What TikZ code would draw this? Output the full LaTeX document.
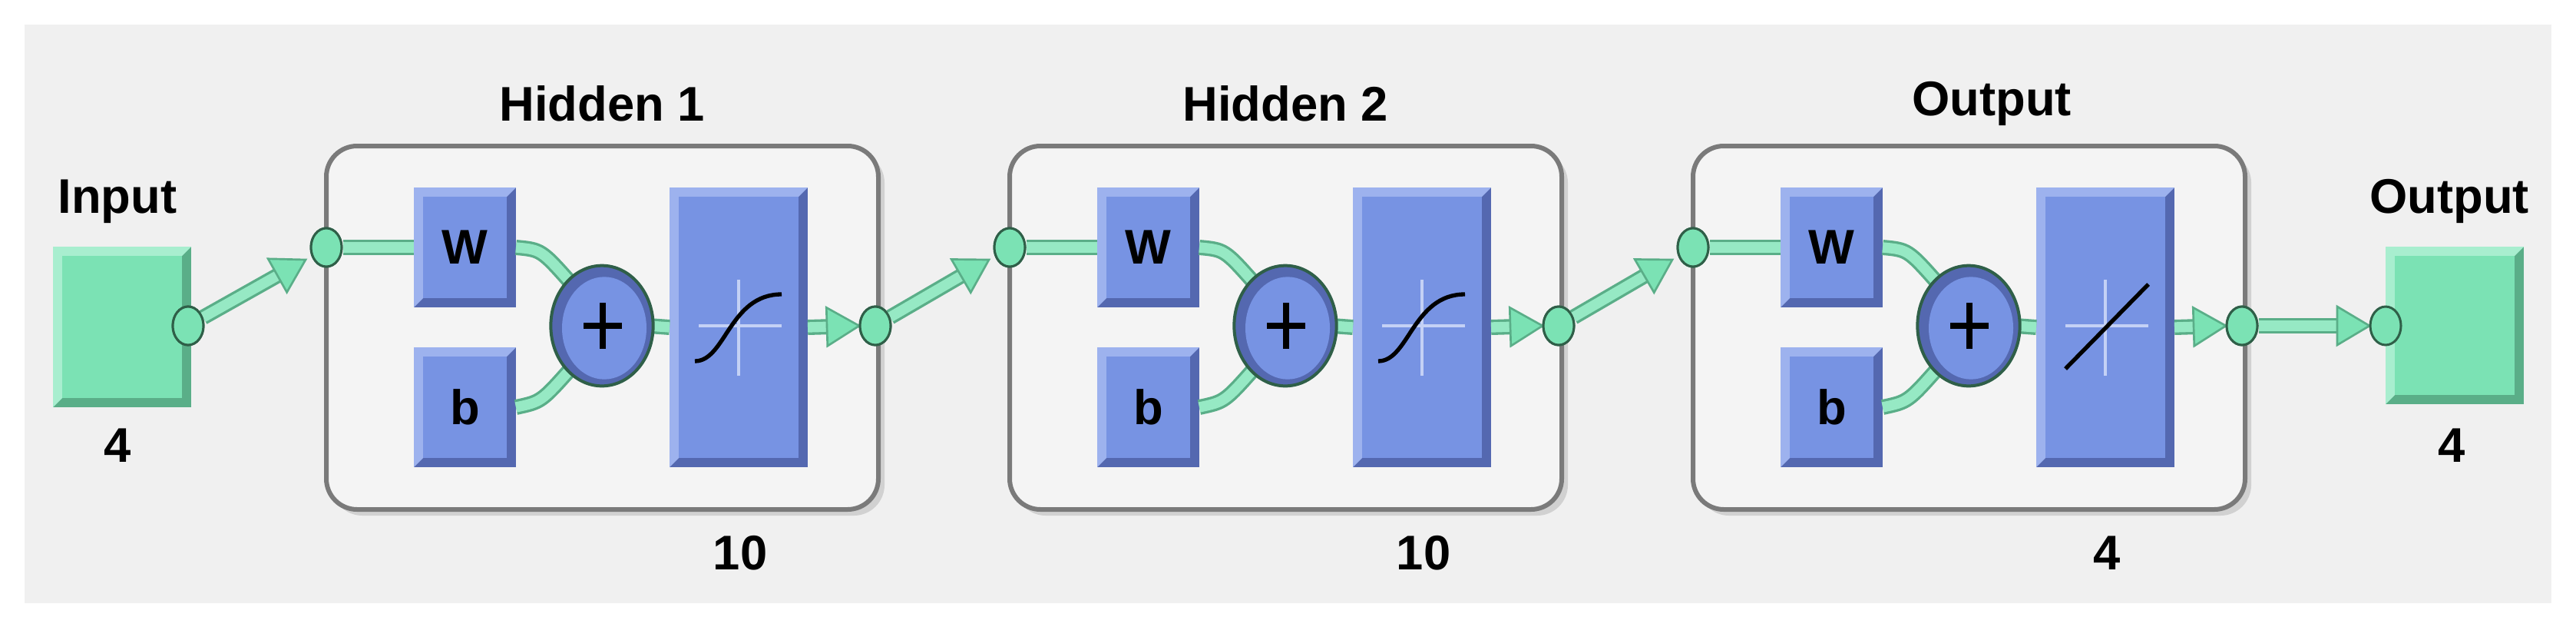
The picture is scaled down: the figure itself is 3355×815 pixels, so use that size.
\documentclass[tikz,border=0pt]{standalone}
\usepackage{fontspec}
\setmainfont{Liberation Sans}
\usetikzlibrary{calc,shapes.geometric}
\definecolor{bgc}{HTML}{F0F0F0}
\definecolor{boxin}{HTML}{F4F4F4}
\definecolor{boxbd}{HTML}{7A7A7A}
\definecolor{gr}{HTML}{7BE2B4}
\definecolor{grl}{HTML}{A8EECF}
\definecolor{grd}{HTML}{5AAE88}
\definecolor{gro}{HTML}{2F5F48}
\definecolor{bl}{HTML}{7793E3}
\definecolor{bll}{HTML}{9DB2EE}
\definecolor{bld}{HTML}{5468B0}
\tikzset{
  x=0.3pt,y=-0.3pt,
  lbl/.style={font=\fontsize{19}{22}\selectfont\bfseries,inner sep=0pt},
  dot/.style={ellipse,draw=gro,line width=0.9pt,fill=gr,minimum width=12pt,minimum height=15pt,inner sep=0pt},
  wire/.style={draw=grd,line width=6pt},
  wirein/.style={draw=grl!60!gr,line width=4pt},
  layer/.style={draw=boxbd,line width=1.8pt,fill=boxin,rounded corners=12pt},
  cross/.style={draw=bll!60!white,line width=1pt},
}
% bevelled box: #1 name, #2 x1, #3 y1, #4 x2, #5 y2, #6 base, #7 light, #8 dark
\newcommand\bevbox[8]{%
  \fill[#8] (#2,#3) rectangle (#4,#5);
  \fill[#7] (#2,#3) -- (#4,#3) -- ($(#4,#3)+(-12,12)$) -- ($(#2,#3)+(12,12)$) -- ($(#2,#5)+(12,-12)$) -- (#2,#5) -- cycle;
  \fill[#6] ($(#2,#3)+(12,12)$) rectangle ($(#4,#5)+(-12,-12)$);
  \node[inner sep=0pt,minimum size=0pt] (#1) at ($(#2,#3)!0.5!(#4,#5)$) {};
  \coordinate (#1-w) at (#2,{(#3+#5)/2});
  \coordinate (#1-e) at (#4,{(#3+#5)/2});
}
% arrow: from coordinate #1 to tip coordinate #2
\newcommand\garrow[2]{%
  \coordinate (gab) at ($(#2)!12.6pt!(#1)$);
  \coordinate (gae) at ($(#2)!11pt!(#1)$);
  \coordinate (gl) at ($(gab)!7.5pt!90:(#2)$);
  \coordinate (gr) at ($(gab)!7.5pt!-90:(#2)$);
  \draw[wire] (#1) -- (gae);
  \draw[wirein] (#1) -- (gae);
  \filldraw[fill=gr,draw=grd,line width=0.8pt] (#2) -- (gl) -- (gr) -- cycle;
}
\begin{document}
\begin{tikzpicture}
\useasboundingbox (0,0) rectangle (3355,815);
\fill[white] (0,0) rectangle (3355,815);
\fill[bgc] (32,32) rectangle (3323,785);

% input
\bevbox{in}{69}{321}{249}{530}{gr}{grl}{grd}
\node[lbl] (inlbl) at (153,262) {Input};
\node[lbl] (innum) at (153,580) {4};
\node[dot] (indot) at (245,424) {};

\foreach \i/\name/\num/\lx in {0/Hidden 1/10/784,1/Hidden 2/10/784,2/Output/4/814}{
  \begin{scope}[xshift={\i*890*0.3pt}]
    \fill[black!18,rounded corners=12pt] (432,198) rectangle (1152,671);
    \path[layer] (425,190) rectangle (1144,663);
    \node[lbl] (t\i) at (\lx,135) {\name};
    \node[lbl] (n\i) at (964,720) {\num};
    \bevbox{W\i}{539}{244}{672}{400}{bl}{bll}{bld}
    \bevbox{b\i}{539}{452}{672}{608}{bl}{bll}{bld}
    \bevbox{f\i}{872}{244}{1052}{608}{bl}{bll}{bld}
    \node[dot] (d\i) at (425,322) {};
    \node[dot] (o\i) at (1140,424) {};
    \draw[wire] (d\i) -- (W\i-w);
    \draw[wirein] (d\i) -- (W\i-w);
    \coordinate (pa\i) at (745,370);
    \coordinate (pb\i) at (745,478);
    \draw[wire] (W\i-e) .. controls (705,325) .. (pa\i);
    \draw[wirein] (W\i-e) .. controls (705,325) .. (pa\i);
    \draw[wire] (b\i-e) .. controls (705,523) .. (pb\i);
    \draw[wirein] (b\i-e) .. controls (705,523) .. (pb\i);
    \draw[wire] (845,424) -- (f\i-w);
    \draw[wirein] (845,424) -- (f\i-w);
    \node[ellipse,draw=gro,line width=1.2pt,fill=bld,minimum width=40pt,minimum height=47pt,inner sep=0pt] (p\i) at (784,424) {};
    \node[ellipse,fill=bl,minimum width=33pt,minimum height=40pt,inner sep=0pt] (pi\i) at (787,427) {};
    \draw[line width=2.2pt] (760,424) -- (810,424) (785,394) -- (785,454);
    \node[lbl] (Wt\i) at (W\i) {W};
    \node[lbl] (bt\i) at (b\i) {b};
    \draw[cross] (910,424) -- (1018,424) (962,364) -- (962,489);
    \coordinate (tip\i) at (1119,424);
    \garrow{f\i-e}{tip\i}
  \end{scope}
}
\draw[line width=1.6pt] (905,470) .. controls (945,470) and (950,383) .. (1018,383);
\begin{scope}[xshift={890*0.3pt}]
\draw[line width=1.6pt] (905,470) .. controls (945,470) and (950,383) .. (1018,383);
\end{scope}
\begin{scope}[xshift={1780*0.3pt}]
\draw[line width=1.6pt] (910,480) -- (1018,370);
\end{scope}

\coordinate (t1in) at (398,338);
\coordinate (t2in) at (1288,338);
\coordinate (t3in) at (2178,338);
\garrow{indot}{t1in}
\garrow{o0}{t2in}
\garrow{o1}{t3in}
\node[dot] at (d0) {};
\node[dot] at (d1) {};
\node[dot] at (d2) {};
\node[dot] at (indot) {};
\node[dot] at (o0) {};
\node[dot] at (o1) {};

\bevbox{out}{3107}{321}{3287}{526}{gr}{grl}{grd}
\node[lbl] (outlbl) at (3190,262) {Output};
\node[lbl] (outnum) at (3193,580) {4};
\coordinate (toout) at (3086,424);
\garrow{o2}{toout}
\node[dot] at (o2) {};
\node[dot] (outdot) at (3107,424) {};
\end{tikzpicture}
\end{document}
